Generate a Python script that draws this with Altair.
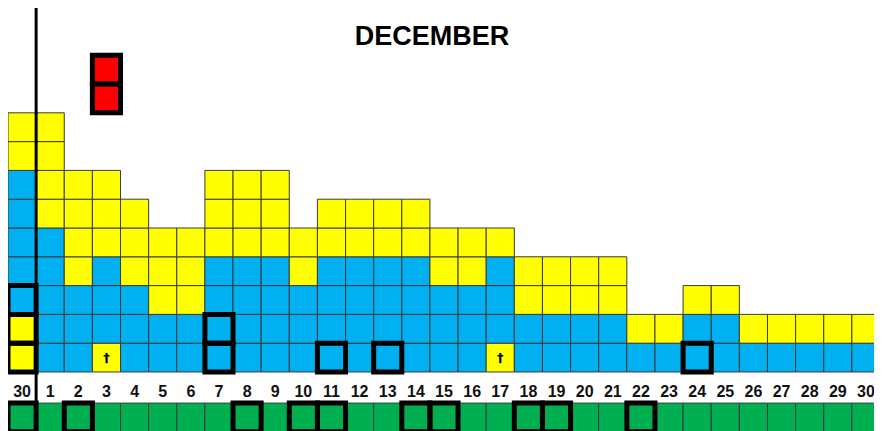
import altair as alt
import pandas as pd

# ---- data ----
day_labels = ["30", "1", "2", "3", "4", "5", "6", "7", "8", "9", "10",
              "11", "12", "13", "14", "15", "16", "17", "18", "19", "20",
              "21", "22", "23", "24", "25", "26", "27", "28", "29", "30"]

# cell colours from bottom to top per column (B = blue, Y = yellow)
stacks = ["YYBBBBBYY", "BBBBBYYYY", "BBBYYYY", "YBBBYYY", "BBBYYY",
          "BBYYY", "BBYYY", "BBBBYYY", "BBBBYYY", "BBBBYYY",
          "BBBYY", "BBBBYY", "BBBBYY", "BBBBYY", "BBBBYY",
          "BBBYY", "BBBYY", "YBBBY", "BBYY", "BBYY",
          "BBYY", "BBYY", "BY", "BY", "BBY",
          "BBY", "BY", "BY", "BY", "BY", "BY"]

# (column index, row) of cells with a thick black frame
framed_cols = [0, 0, 0, 7, 7, 11, 13, 24]
framed_rows = [1, 2, 3, 1, 2, 1, 1, 1]

# columns whose green cell is framed
green_framed = [0, 2, 8, 10, 11, 14, 15, 18, 19, 22]

# crosses
cross_cols = [3, 17]
cross_rows = [1, 1]

# red cells
red_cols = [3, 3]
red_rows = [10, 11]

COLORS = {"B": "#00B0F0", "Y": "#FFFF00"}
GREEN = "#00B050"
RED = "#FF0000"

GREEN_TOP = -1.08
GREEN_BOTTOM = -2.08
LABEL_Y = -0.87

W, H = 872, 423
xs = alt.Scale(domain=[0, 31], nice=False, zero=False)
ys = alt.Scale(domain=[-2.05, 12.64], nice=False, zero=False)

cells = []
for i, s in enumerate(stacks):
    for r, c in enumerate(s):
        cells.append(dict(x0=i, x1=i + 1, y0=r, y1=r + 1, fill=COLORS[c]))
for i in range(len(day_labels)):
    cells.append(dict(x0=i, x1=i + 1, y0=GREEN_BOTTOM, y1=GREEN_TOP, fill=GREEN))
for c, r in zip(red_cols, red_rows):
    cells.append(dict(x0=c, x1=c + 1, y0=r - 1, y1=r, fill=RED))
cells_df = pd.DataFrame(cells)

frames = []
for c, r in zip(framed_cols, framed_rows):
    frames.append(dict(x0=c, x1=c + 1, y0=r - 1, y1=r))
for c in green_framed:
    frames.append(dict(x0=c, x1=c + 1, y0=GREEN_BOTTOM, y1=GREEN_TOP))
for c, r in zip(red_cols, red_rows):
    frames.append(dict(x0=c, x1=c + 1, y0=r - 1, y1=r))
frames_df = pd.DataFrame(frames)

labels_df = pd.DataFrame({"x": [i + 0.5 for i in range(len(day_labels))],
                          "y": [LABEL_Y] * len(day_labels),
                          "t": day_labels})
cross_df = pd.DataFrame({"x": [c + 0.5 for c in cross_cols],
                         "y": [r - 0.5 for r in cross_rows],
                         "t": ["†"] * len(cross_cols)})

base_enc = dict(
    x=alt.X("x0:Q", scale=xs, axis=None), x2="x1:Q",
    y=alt.Y("y0:Q", scale=ys, axis=None), y2="y1:Q",
)

cell_layer = alt.Chart(cells_df).mark_rect(stroke="#3a3a3a", strokeWidth=1).encode(
    fill=alt.Fill("fill:N", scale=None), **base_enc)

frame_layer = alt.Chart(frames_df).mark_rect(
    filled=False, color="black", strokeWidth=5).encode(**base_enc)

label_layer = alt.Chart(labels_df).mark_text(
    font="Liberation Sans", fontWeight="bold", fontSize=16, color="#111111",
    baseline="alphabetic", align="center").encode(
    x=alt.X("x:Q", scale=xs, axis=None), y=alt.Y("y:Q", scale=ys, axis=None),
    text="t:N")

cross_layer = alt.Chart(cross_df).mark_text(
    font="DejaVu Sans", fontWeight="bold", fontSize=13, color="black",
    baseline="middle", align="center").encode(
    x=alt.X("x:Q", scale=xs, axis=None), y=alt.Y("y:Q", scale=ys, axis=None),
    text="t:N")

title_layer = alt.Chart(pd.DataFrame({"t": ["DECEMBER"]})).mark_text(
    font="Liberation Sans", fontWeight="bold", fontSize=27, color="black",
    baseline="alphabetic", align="center").encode(
    x=alt.value(424), y=alt.value(37), text="t:N")

divider = alt.Chart(pd.DataFrame({"x": [1]})).mark_rule(
    color="black", strokeWidth=3).encode(
    x=alt.X("x:Q", scale=xs, axis=None), y=alt.value(0), y2=alt.value(H))

chart = alt.layer(cell_layer, frame_layer, cross_layer, label_layer,
                  title_layer, divider).properties(
    width=W, height=H, autosize=alt.AutoSizeParams(type="none"),
    padding={"left": 0, "top": 0, "right": -6, "bottom": 0}
).configure_view(stroke=None)

chart.save("out.html", embed_options={"renderer": "svg", "actions": False})
